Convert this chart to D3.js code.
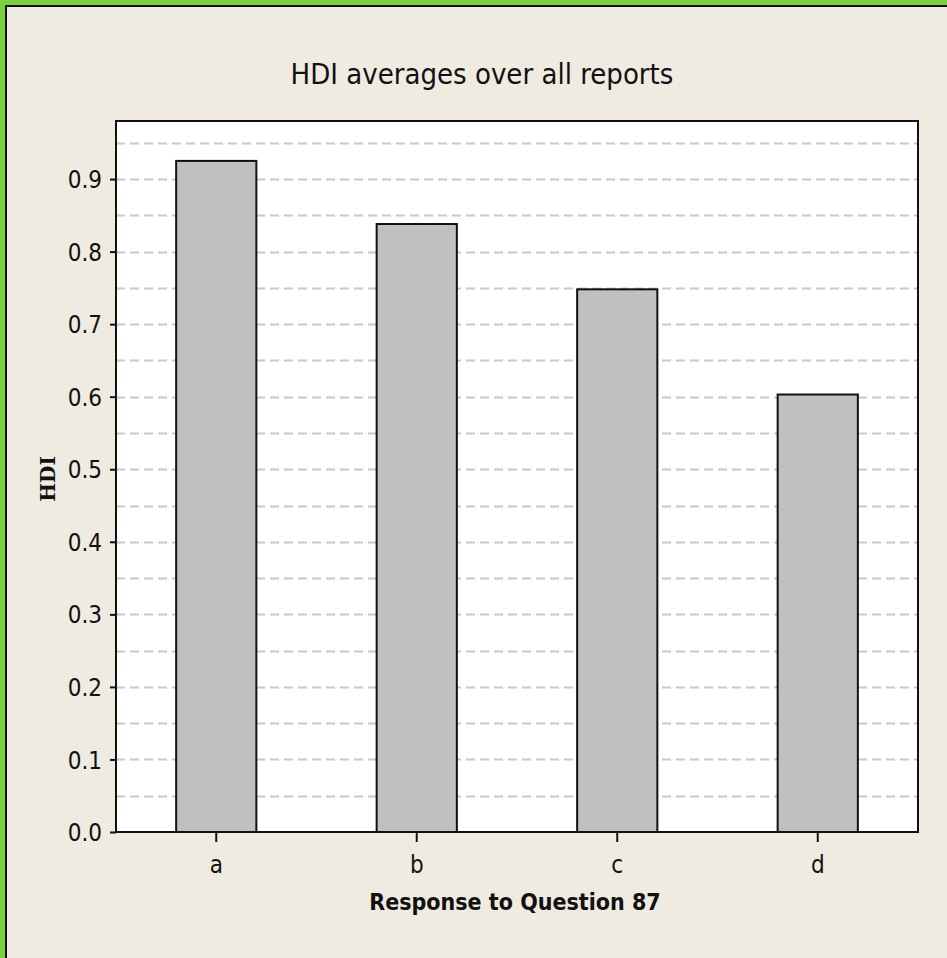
<!DOCTYPE html>
<html>
<head>
<meta charset="utf-8">
<script src="https://cdn.jsdelivr.net/npm/d3@7"></script>
<style>
  body { margin: 0; background: #efebe1; }
  svg { display: block; }
  .tick text { font-family: "DejaVu Sans Condensed", sans-serif; font-size: 24px; fill: #111; }
</style>
</head>
<body>
<div id="chart"></div>
<script>
// chart data
var categories = ["a", "b", "c", "d"];
var values = [0.925, 0.838, 0.748, 0.603];
var yTicks = [0.0, 0.1, 0.2, 0.3, 0.4, 0.5, 0.6, 0.7, 0.8, 0.9];
var gridLines = [0.05, 0.1, 0.15, 0.2, 0.25, 0.3, 0.35, 0.4, 0.45, 0.5, 0.55, 0.6, 0.65, 0.7, 0.75, 0.8, 0.85, 0.9, 0.95];

var width = 947, height = 958;
var margin = {top: 121, right: 29, bottom: 126, left: 116};
var w = width - margin.left - margin.right;
var h = height - margin.top - margin.bottom;

var svg = d3.select("#chart").append("svg")
    .attr("width", width)
    .attr("height", height);

svg.append("rect").attr("width", width).attr("height", height).attr("fill", "#efebe1");

// green frame top + left, with dark inner line
svg.append("rect").attr("x", 0).attr("y", 0).attr("width", width).attr("height", 5).attr("fill", "#7dd13a");
svg.append("rect").attr("x", 0).attr("y", 0).attr("width", 5).attr("height", height).attr("fill", "#7dd13a");
svg.append("rect").attr("x", 5).attr("y", 5).attr("width", width - 5).attr("height", 2).attr("fill", "#111");
svg.append("rect").attr("x", 5).attr("y", 5).attr("width", 2).attr("height", height - 5).attr("fill", "#111");

var g = svg.append("g").attr("transform", "translate(" + margin.left + "," + margin.top + ")");

var x = d3.scaleBand().domain(categories).range([0, w]).paddingInner(0.6).paddingOuter(0.3);
var y = d3.scaleLinear().domain([0, 0.98]).range([h, 0]);

g.append("rect").attr("width", w).attr("height", h).attr("fill", "#fff");

g.selectAll(".grid")
    .data(gridLines)
    .enter().append("line")
    .attr("x1", 0).attr("x2", w)
    .attr("y1", function (d) { return Math.round(y(d)) + 0.5; })
    .attr("y2", function (d) { return Math.round(y(d)) + 0.5; })
    .attr("stroke", "#c8c8c8")
    .attr("stroke-width", 2)
    .attr("stroke-dasharray", "9,5");

g.selectAll(".bar")
    .data(values)
    .enter().append("rect")
    .attr("x", function (d, i) { return x(categories[i]); })
    .attr("y", function (d) { return y(d); })
    .attr("width", x.bandwidth())
    .attr("height", function (d) { return h - y(d); })
    .attr("fill", "#c0c0c0")
    .attr("stroke", "#111")
    .attr("stroke-width", 2);

g.append("rect").attr("width", w).attr("height", h)
    .attr("fill", "none").attr("stroke", "#111").attr("stroke-width", 2);

var yAxis = g.append("g")
    .call(d3.axisLeft(y).tickValues(yTicks).tickFormat(d3.format(".1f")).tickSize(6).tickPadding(8));
yAxis.select(".domain").remove();
yAxis.selectAll(".tick line").attr("stroke", "#111").attr("stroke-width", 2);
yAxis.selectAll(".tick text").attr("dy", "0.36em");

var xAxis = g.append("g")
    .attr("transform", "translate(0," + h + ")")
    .call(d3.axisBottom(x).tickSize(10).tickPadding(14));
xAxis.select(".domain").remove();
xAxis.selectAll(".tick line").attr("stroke", "#111").attr("stroke-width", 2);

svg.append("text")
    .attr("x", 482).attr("y", 84)
    .attr("text-anchor", "middle")
    .style("font-family", "'DejaVu Sans Condensed', sans-serif")
    .style("font-size", "29px")
    .attr("fill", "#111")
    .text("HDI averages over all reports");

svg.append("text")
    .attr("x", 515).attr("y", 910)
    .attr("text-anchor", "middle")
    .style("font-family", "'DejaVu Sans Condensed', sans-serif")
    .style("font-size", "23px")
    .style("font-weight", "bold")
    .attr("fill", "#111")
    .text("Response to Question 87");

svg.append("text")
    .attr("transform", "translate(55,479) rotate(-90)")
    .attr("text-anchor", "middle")
    .style("font-family", "'DejaVu Serif', serif")
    .style("font-size", "20px")
    .style("font-weight", "bold")
    .attr("fill", "#111")
    .text("HDI");
</script>
</body>
</html>
